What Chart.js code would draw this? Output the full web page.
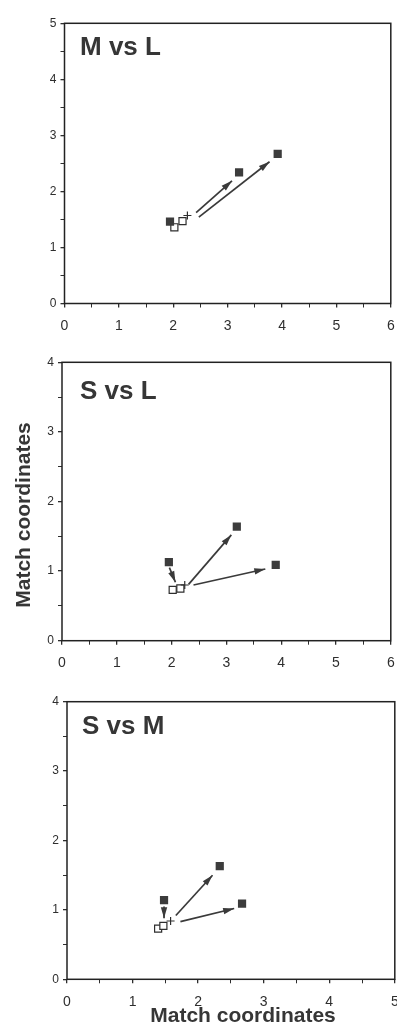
<!DOCTYPE html>
<html>
<head>
<meta charset="utf-8">
<script src="https://cdn.jsdelivr.net/npm/chart.js@4"></script>
<style>
html, body { margin: 0; background: #fff; overflow: hidden; }
canvas { position: absolute; left: 0; }
.lbl { position: absolute; font-family: "Liberation Sans", Arial, sans-serif; font-weight: bold; color: #363636; white-space: nowrap; }
</style>
</head>
<body>
<canvas id="c0" width="397" height="345" style="top:0px"></canvas>
<canvas id="c1" width="397" height="345" style="top:330px"></canvas>
<canvas id="c2" width="401" height="363" style="top:665px"></canvas>

<div class="lbl" style="left:80px;top:33px;font-size:26px;line-height:26px">M vs L</div>
<div class="lbl" style="left:80px;top:377px;font-size:26px;line-height:26px">S vs L</div>
<div class="lbl" style="left:82px;top:712px;font-size:26px;line-height:26px">S vs M</div>
<div class="lbl" style="left:-102px;top:502px;width:250px;text-align:center;font-size:21px;line-height:26px;transform:rotate(-90deg)">Match coordinates</div>
<div class="lbl" style="left:118px;top:1004px;width:250px;text-align:center;font-size:21px;line-height:21px">Match coordinates</div>

<script>
// axis ranges for the three panels
const xMax = [6, 6, 5];
const yMax = [5, 4, 4];

// M vs L
const filledML = [[1.94, 1.46], [3.21, 2.34], [3.92, 2.67]];
const openML = [[2.02, 1.36], [2.17, 1.47]];
const crossML = [[2.26, 1.57]];
const arrowsML = [[2.42, 1.62, 3.08, 2.19], [2.47, 1.54, 3.77, 2.53]];

// S vs L
const filledSL = [[1.95, 1.13], [3.19, 1.64], [3.90, 1.09]];
const openSL = [[2.02, 0.73], [2.16, 0.75]];
const crossSL = [[2.24, 0.80]];
const arrowsSL = [[1.96, 1.05, 2.07, 0.84], [2.31, 0.81, 3.09, 1.52], [2.40, 0.80, 3.71, 1.03]];

// S vs M
const filledSM = [[1.48, 1.14], [2.33, 1.63], [2.67, 1.09]];
const openSM = [[1.39, 0.73], [1.47, 0.77]];
const crossSM = [[1.58, 0.84]];
const arrowsSM = [[1.48, 1.05, 1.48, 0.88], [1.66, 0.92, 2.22, 1.50], [1.73, 0.83, 2.55, 1.02]];

const filled = [filledML, filledSL, filledSM];
const open = [openML, openSL, openSM];
const cross = [crossML, crossSL, crossSM];
const arrows = [arrowsML, arrowsSL, arrowsSM];

// where each plot box sits on the page (w = canvas width)
const boxes = [
  { top: 0, h: 345, w: 397, l: 64.5, r: 391, t: 23.3, b: 303.5 },
  { top: 330, h: 345, w: 397, l: 62, r: 391, t: 362.3, b: 640.7 },
  { top: 665, h: 363, w: 401, l: 67, r: 395, t: 701.7, b: 979.3 }
];

const ink = '#2e2e2e';
const pts = a => a.map(p => ({ x: p[0], y: p[1] }));

// frame around the plot area
const boxPlugin = {
  id: 'box',
  beforeDatasetsDraw(chart) {
    const { ctx, chartArea: a } = chart;
    ctx.save();
    ctx.strokeStyle = '#222';
    ctx.lineWidth = 1.5;
    ctx.strokeRect(a.left, a.top, a.right - a.left, a.bottom - a.top);
    ctx.restore();
  }
};

// arrow heads at the end of each arrow line
const arrowPlugin = {
  id: 'arrowheads',
  afterDatasetsDraw(chart) {
    const ctx = chart.ctx;
    chart.data.datasets.forEach((ds, k) => {
      if (!ds.arrow) return;
      const m = chart.getDatasetMeta(k).data;
      const p0 = m[0], p1 = m[1];
      const ang = Math.atan2(p1.y - p0.y, p1.x - p0.x);
      const len = 11, w = 3.2;
      ctx.save();
      ctx.translate(p1.x, p1.y);
      ctx.rotate(ang);
      ctx.fillStyle = '#3a3a3a';
      ctx.beginPath();
      ctx.moveTo(0, 0);
      ctx.lineTo(-len, -w);
      ctx.lineTo(-len, w);
      ctx.closePath();
      ctx.fill();
      ctx.restore();
    });
  }
};

function makeChart(i) {
  const bx = boxes[i];
  const datasets = [];

  arrows[i].forEach(a => {
    datasets.push({
      type: 'line',
      arrow: true,
      data: [{ x: a[0], y: a[1] }, { x: a[2], y: a[3] }],
      borderColor: '#3a3a3a',
      borderWidth: 1.7,
      pointRadius: 0,
      showLine: true,
      order: 3
    });
  });

  datasets.push({
    data: pts(open[i]),
    pointStyle: 'rect',
    pointRadius: 5,
    backgroundColor: '#fff',
    borderColor: ink,
    borderWidth: 1.2,
    order: 2
  });
  datasets.push({
    data: pts(cross[i]),
    pointStyle: 'cross',
    pointRadius: 4,
    borderColor: ink,
    borderWidth: 1.2,
    order: 1
  });
  datasets.push({
    data: pts(filled[i]),
    pointStyle: 'rect',
    pointRadius: 5.8,
    backgroundColor: '#3c3c3c',
    borderColor: '#3c3c3c',
    borderWidth: 0,
    order: 0
  });

  const tickGrid = {
    display: true,
    drawOnChartArea: false,
    drawTicks: true,
    tickLength: 4,
    color: ink,
    lineWidth: c => (Number.isInteger(c.tick.value) ? 1.3 : 1)
  };

  new Chart(document.getElementById('c' + i), {
    type: 'scatter',
    data: { datasets },
    options: {
      responsive: false,
      animation: false,
      events: [],
      layout: { padding: { top: bx.t - bx.top, left: 0, right: bx.w - bx.r, bottom: 0 } },
      plugins: { legend: { display: false }, tooltip: { enabled: false } },
      scales: {
        x: {
          type: 'linear',
          min: 0,
          max: xMax[i],
          border: { display: false },
          grid: tickGrid,
          afterFit: s => {
            s.height = bx.top + bx.h - bx.b;
            s.paddingLeft = 0;
            s.paddingRight = 0;
          },
          ticks: {
            stepSize: 0.5,
            autoSkip: false,
            maxRotation: 0,
            padding: 10,
            color: ink,
            font: { family: 'Liberation Sans', size: 14 },
            callback: v => (Number.isInteger(v) ? v : '')
          }
        },
        y: {
          type: 'linear',
          min: 0,
          max: yMax[i],
          border: { display: false },
          grid: tickGrid,
          afterFit: s => {
            s.width = bx.l;
            s.paddingTop = 0;
            s.paddingBottom = 0;
          },
          ticks: {
            stepSize: 0.5,
            autoSkip: false,
            padding: 4,
            color: ink,
            font: { family: 'Liberation Sans', size: 12 },
            callback: v => (Number.isInteger(v) ? v : '')
          }
        }
      }
    },
    plugins: [boxPlugin, arrowPlugin]
  });
}

[0, 1, 2].forEach(makeChart);
</script>
</body>
</html>
